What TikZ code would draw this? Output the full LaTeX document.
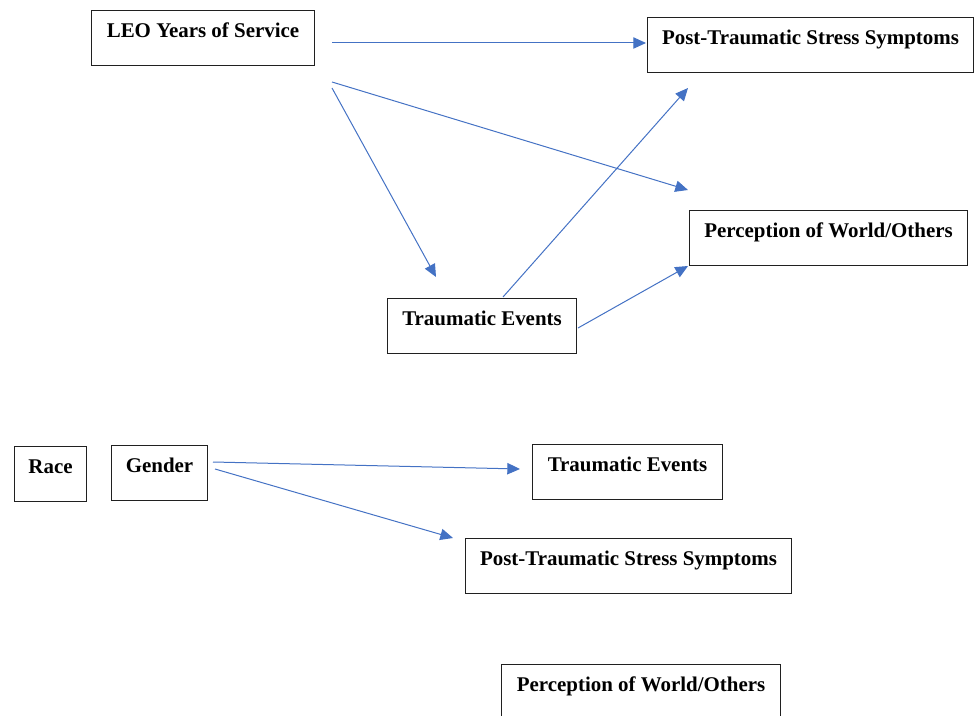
\documentclass[tikz,border=0pt]{standalone}
\usepackage{fontspec}
\setmainfont{Liberation Serif}
\usetikzlibrary{arrows.meta}
\definecolor{arrowblue}{HTML}{4472C4}
\definecolor{boxline}{HTML}{202020}
\tikzset{
  box/.style={draw=boxline, line width=0.8pt, rectangle, anchor=north west,
    inner xsep=0pt, inner ysep=0pt, text height=20.25pt, text depth=21pt,
    align=center, font=\fontsize{15.7}{18}\selectfont\bfseries},
  bw/.style={minimum width=#1*0.75pt},
  conn/.style={draw=arrowblue, line width=0.75pt, -{Triangle[length=9.5pt,width=8.5pt]}}
}
\begin{document}
\begin{tikzpicture}[x=0.75pt,y=-0.75pt]
\useasboundingbox (0,0) rectangle (974,716);
\node[box,bw=223] (leo) at (91,10) {LEO Years of Service};
\node[box,bw=326] (ptss1) at (647,17) {Post-Traumatic Stress Symptoms};
\node[box,bw=278] (per1) at (689,210) {Perception of World/Others};
\node[box,bw=189] (te1) at (387,298) {Traumatic Events};
\node[box,bw=72] (race) at (14,446) {Race};
\node[box,bw=96] (gender) at (111,445) {Gender};
\node[box,bw=190] (te2) at (532,444) {Traumatic Events};
\node[box,bw=326] (ptss2) at (465,538) {Post-Traumatic Stress Symptoms};
\node[box,bw=279] (per2) at (501,664) {Perception of World/Others};
% connector end points
\coordinate (a1s) at (332,43);  \coordinate (a1e) at (646,43);
\coordinate (a2s) at (332,82);  \coordinate (a2e) at (688,190);
\coordinate (a3s) at (332,88);  \coordinate (a3e) at (436,277);
\coordinate (a4s) at (503,297); \coordinate (a4e) at (688,88);
\coordinate (a5s) at (578,328); \coordinate (a5e) at (688,266);
\coordinate (a6s) at (213,462); \coordinate (a6e) at (520,469);
\coordinate (a7s) at (215,469); \coordinate (a7e) at (453,538);
\draw[conn] (a1s) -- (a1e);
\draw[conn] (a2s) -- (a2e);
\draw[conn] (a3s) -- (a3e);
\draw[conn] (a4s) -- (a4e);
\draw[conn] (a5s) -- (a5e);
\draw[conn] (a6s) -- (a6e);
\draw[conn] (a7s) -- (a7e);
\end{tikzpicture}
\end{document}
